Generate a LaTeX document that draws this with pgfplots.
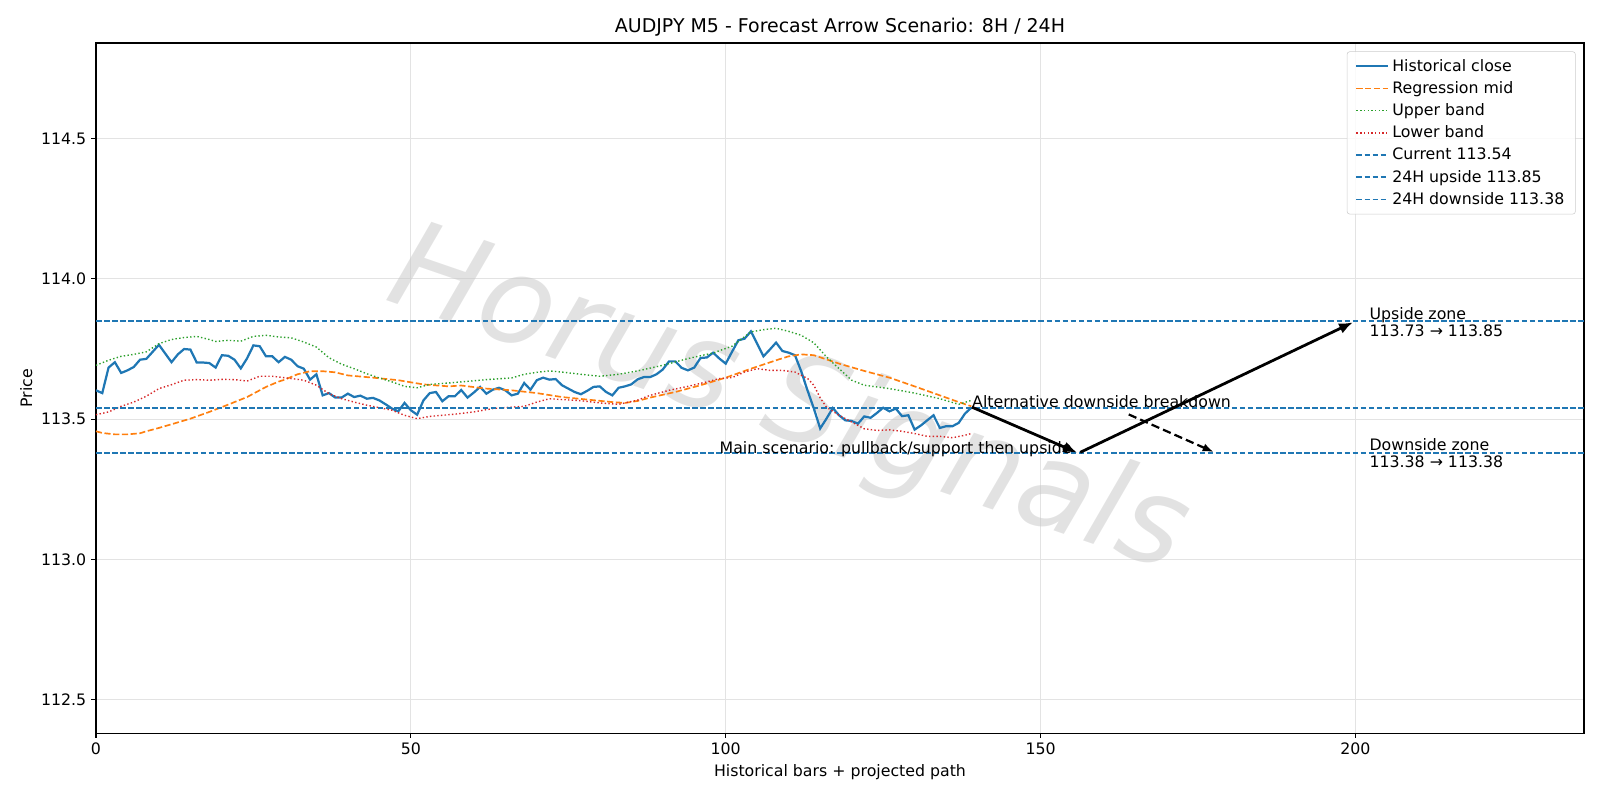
\documentclass[border=0pt]{standalone}
\usepackage{pgfplots}
\pgfplotsset{compat=1.18}
\usepackage{pgfplotstable}
\usetikzlibrary{arrows.meta}
\usepackage{fontspec}
\setmainfont{DejaVu Sans}
\definecolor{cA}{HTML}{1F77B4}
\definecolor{cB}{HTML}{FF7F0E}
\definecolor{cC}{HTML}{2CA02C}
\definecolor{cD}{HTML}{D62728}
\newcommand{\fs}{\fontsize{11.4}{13.5}\selectfont}

\pgfplotstableread{
x y
0 113.603
1 113.593
2 113.684
3 113.703
4 113.665
5 113.674
6 113.686
7 113.712
8 113.715
9 113.740
10 113.765
11 113.734
12 113.703
13 113.731
14 113.750
15 113.748
16 113.702
17 113.702
18 113.700
19 113.684
20 113.728
21 113.726
22 113.712
23 113.681
24 113.717
25 113.763
26 113.760
27 113.724
28 113.724
29 113.703
30 113.722
31 113.712
32 113.689
33 113.680
34 113.641
35 113.660
36 113.585
37 113.593
38 113.577
39 113.577
40 113.591
41 113.579
42 113.584
43 113.573
44 113.576
45 113.567
46 113.553
47 113.538
48 113.528
49 113.558
50 113.532
51 113.516
52 113.567
53 113.593
54 113.597
55 113.564
56 113.582
57 113.582
58 113.604
59 113.577
60 113.595
61 113.615
62 113.591
63 113.605
64 113.612
65 113.603
66 113.585
67 113.591
68 113.629
69 113.605
70 113.639
71 113.648
72 113.641
73 113.643
74 113.621
75 113.609
76 113.597
77 113.589
78 113.601
79 113.615
80 113.617
81 113.597
82 113.585
83 113.612
84 113.617
85 113.624
86 113.642
87 113.650
88 113.650
89 113.660
90 113.677
91 113.706
92 113.706
93 113.683
94 113.674
95 113.684
96 113.718
97 113.720
98 113.737
99 113.716
100 113.698
101 113.740
102 113.781
103 113.787
104 113.813
105 113.769
106 113.724
107 113.748
108 113.773
109 113.743
110 113.737
111 113.728
112 113.670
113 113.602
114 113.538
115 113.467
116 113.502
117 113.540
118 113.514
119 113.496
120 113.494
121 113.484
122 113.510
123 113.505
124 113.522
125 113.541
126 113.528
127 113.538
128 113.511
129 113.514
130 113.463
131 113.478
132 113.496
133 113.514
134 113.469
135 113.475
136 113.475
137 113.487
138 113.520
139 113.541
}\closetab

\pgfplotstableread{
x y
0 113.457
1 113.451
3 113.446
5 113.446
7 113.450
8 113.457
10 113.469
12 113.482
15 113.502
18 113.526
21 113.552
24 113.579
27 113.615
29 113.634
30 113.641
32 113.660
34 113.671
36 113.671
38 113.667
40 113.656
44 113.648
48 113.639
52 113.624
56 113.617
58 113.620
62 113.609
66 113.603
70 113.593
74 113.579
78 113.570
82 113.561
84 113.558
86 113.565
88 113.577
92 113.597
96 113.621
100 113.648
104 113.680
108 113.710
110 113.724
112 113.731
114 113.728
118 113.698
122 113.672
126 113.648
130 113.617
134 113.585
137 113.561
139 113.546
}\midtab

\pgfplotstableread{
x y
0 113.692
2 113.710
4 113.724
6 113.731
8 113.740
10 113.769
12 113.784
14 113.791
16 113.795
18 113.784
19 113.777
21 113.781
23 113.778
25 113.795
27 113.799
29 113.793
31 113.790
33 113.775
35 113.757
37 113.719
39 113.696
41 113.680
43 113.662
45 113.647
47 113.633
49 113.617
51 113.612
53 113.624
56 113.629
58 113.633
62 113.641
66 113.647
68 113.660
70 113.667
72 113.672
74 113.668
77 113.660
80 113.653
83 113.660
86 113.672
90 113.692
94 113.716
98 113.736
101 113.760
104 113.811
106 113.819
108 113.824
110 113.813
112 113.799
114 113.772
116 113.722
118 113.680
120 113.639
122 113.621
126 113.609
130 113.593
134 113.573
137 113.553
139 113.567
}\uptab

\pgfplotstableread{
x y
0 113.516
2 113.526
4 113.546
6 113.561
8 113.582
10 113.609
12 113.623
14 113.639
16 113.641
18 113.639
20 113.642
22 113.641
24 113.636
26 113.653
28 113.653
31 113.645
33 113.639
35 113.621
37 113.591
39 113.573
41 113.561
43 113.550
45 113.541
47 113.532
49 113.514
51 113.502
53 113.510
55 113.514
57 113.518
60 113.526
63 113.538
66 113.543
68 113.546
70 113.561
72 113.573
74 113.570
77 113.566
80 113.558
83 113.553
86 113.568
88 113.585
91 113.603
94 113.617
97 113.633
99 113.645
101 113.648
103 113.668
105 113.680
107 113.674
109 113.674
111 113.668
113 113.645
114 113.621
115 113.576
116 113.543
118 113.514
120 113.490
122 113.466
124 113.460
126 113.462
128 113.457
130 113.449
132 113.439
134 113.439
136 113.434
138 113.443
139 113.449
}\lowtab

\begin{document}
\begin{tikzpicture}
\useasboundingbox (-69.1bp,-48.2bp) rectangle (1082.9bp,527.8bp);
\begin{axis}[
  at={(0,0)}, anchor=south west,
  width=1071.4bp, height=496.8bp, scale only axis,
  xmin=0, xmax=236.3, ymin=112.382, ymax=114.84,
  xtick={0,50,100,150,200},
  ytick={112.5,113.0,113.5,114.0,114.5},
  yticklabel style={/pgf/number format/.cd, fixed, fixed zerofill, precision=1},
  /pgf/number format/assume math mode=true,
  tick label style={font=\fs},
  label style={font=\fs},
  tick pos=left, tick align=outside, major tick length=3.5bp,
  every tick/.style={black, line width=0.8bp},
  axis line style={line width=0.8bp},
  grid=major, major grid style={gray!22, line width=0.8bp},
  title={AUDJPY M5 - Forecast Arrow Scenario: 8H / 24H},
  title style={font=\fontsize{13.7}{16}\selectfont, yshift=-4.5bp},
  xlabel={Historical bars + projected path},
  ylabel={Price},
  xlabel style={yshift=0bp},
  ylabel style={yshift=-0.5bp},
  legend style={at={(1,1)}, anchor=north east, xshift=-6bp, yshift=-6bp,
    draw=gray!40, rounded corners=2bp, fill=white, fill opacity=0.85, text opacity=1,
    font=\fs, row sep=1.9bp, inner xsep=6bp, inner ysep=3.5bp,
    cells={anchor=west}},
  legend image code/.code={\draw[#1] (0bp,0bp) -- (23bp,0bp);},
  clip=true,
]
\node[rotate=-19, text=gray!45, opacity=0.5, font=\fontsize{88}{100}\selectfont\itshape]
  at (axis cs:110,113.555) {Horus Signals};

\addplot[cA, line width=1.6bp] table {\closetab};
\addlegendentry{Historical close}
\addplot[cB, line width=1.2bp, dash pattern=on 4.4bp off 1.9bp] table {\midtab};
\addlegendentry{Regression mid}
\addplot[cC, line width=1bp, dash pattern=on 1bp off 1.65bp] table {\uptab};
\addlegendentry{Upper band}
\addplot[cD, line width=1bp, dash pattern=on 1bp off 1.65bp] table {\lowtab};
\addlegendentry{Lower band}
\addplot[cA, line width=1.1bp, dash pattern=on 4bp off 1.8bp] coordinates {(0,113.54) (236.3,113.54)};
\addlegendentry{Current 113.54}
\addplot[cA, line width=1.1bp, dash pattern=on 4bp off 1.8bp] coordinates {(0,113.85) (236.3,113.85)};
\addlegendentry{24H upside 113.85}
\addplot[cA, line width=1.1bp, dash pattern=on 4bp off 1.8bp] coordinates {(0,113.38) (236.3,113.38)};
\addlegendentry{24H downside 113.38}

\node[anchor=base west, font=\fs, inner sep=0pt] at (axis cs:99,113.378) {Main scenario: pullback/support then upside};
\node[anchor=base west, font=\fs, inner sep=0pt] at (axis cs:139.1,113.542) {Alternative downside breakdown};

\addplot[black, line width=2bp, -{Latex[length=10bp,width=8bp]}, forget plot] coordinates {(139.1,113.543) (155.8,113.381)};
\addplot[black, line width=2bp, -{Latex[length=10bp,width=8bp]}, forget plot] coordinates {(156.3,113.382) (199.6,113.845)};
\addplot[black, line width=1.6bp, dash pattern=on 6bp off 3bp, -{Latex[length=8bp,width=6bp]}, forget plot] coordinates {(164,113.517) (177.5,113.383)};

\node[anchor=west, align=left, font=\fontsize{11.4}{12.5}\selectfont, inner sep=0pt] at (axis cs:202.2,113.845) {Upside zone\\113.73 → 113.85};
\node[anchor=west, align=left, font=\fontsize{11.4}{12.5}\selectfont, inner sep=0pt] at (axis cs:202.2,113.38) {Downside zone\\113.38 → 113.38};
\end{axis}
\end{tikzpicture}
\end{document}
